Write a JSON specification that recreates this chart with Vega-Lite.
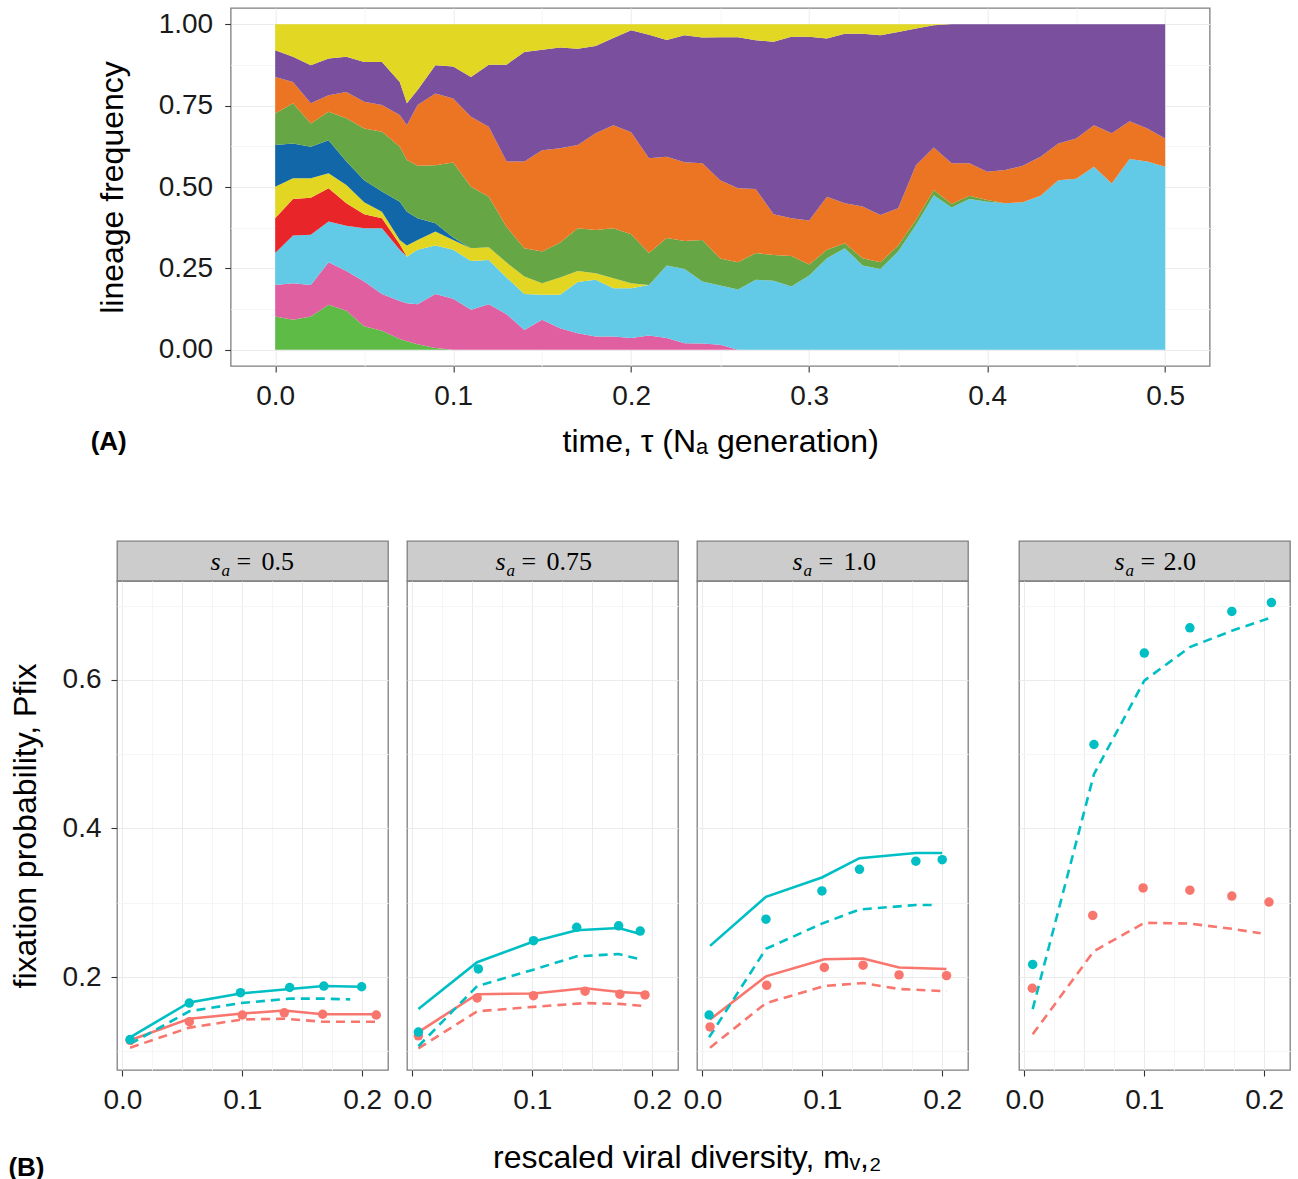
{
  "$schema": "https://vega.github.io/schema/vega-lite/v6.json",
  "background": "white",
  "padding": {"left": 8, "top": 7, "right": 5, "bottom": 0},
  "config": {
    "font": "Liberation Sans",
    "view": {"stroke": "#7F7F7F", "strokeWidth": 1.3},
    "axis": {
      "labelFont": "Liberation Sans", "labelFontSize": 28, "labelColor": "#1A1A1A",
      "titleFont": "Liberation Sans", "titleFontSize": 32, "titleFontWeight": "normal", "titleColor": "#000000",
      "tickColor": "#333333", "tickSize": 6, "tickWidth": 1.1, "domain": false,
      "labelFlush": false, "labelOverlap": false
    },
    "title": {"font": "Liberation Sans", "color": "#000000"}
  },
  "resolve": {"scale": {"color": "independent"}},
  "title": {"text": "(B)", "orient": "bottom", "anchor": "start", "frame": "bounds", "fontSize": 26, "fontWeight": "bold", "offset": -19},
  "datasets": {
    "lin": [
      {"t":0,"k":"L01","f":0.102},{"t":0,"k":"L02","f":0.097},{"t":0,"k":"L03","f":0.098},{"t":0,"k":"L04","f":0.107},{"t":0,"k":"L05","f":0.097},{"t":0,"k":"L06","f":0.128},{"t":0,"k":"L07","f":0.097},{"t":0,"k":"L08","f":0.112},{"t":0,"k":"L09","f":0.082},{"t":0,"k":"L10","f":0.080},
      {"t":0.01,"k":"L01","f":0.092},{"t":0.01,"k":"L02","f":0.112},{"t":0.01,"k":"L03","f":0.147},{"t":0.01,"k":"L04","f":0.112},{"t":0.01,"k":"L05","f":0.064},{"t":0.01,"k":"L06","f":0.107},{"t":0.01,"k":"L07","f":0.123},{"t":0.01,"k":"L08","f":0.066},{"t":0.01,"k":"L09","f":0.077},{"t":0.01,"k":"L10","f":0.100},
      {"t":0.02,"k":"L01","f":0.102},{"t":0.02,"k":"L02","f":0.097},{"t":0.02,"k":"L03","f":0.154},{"t":0.02,"k":"L04","f":0.114},{"t":0.02,"k":"L05","f":0.060},{"t":0.02,"k":"L06","f":0.097},{"t":0.02,"k":"L07","f":0.071},{"t":0.02,"k":"L08","f":0.062},{"t":0.02,"k":"L09","f":0.117},{"t":0.02,"k":"L10","f":0.126},
      {"t":0.03,"k":"L01","f":0.138},{"t":0.03,"k":"L02","f":0.131},{"t":0.03,"k":"L03","f":0.125},{"t":0.03,"k":"L04","f":0.102},{"t":0.03,"k":"L05","f":0.046},{"t":0.03,"k":"L06","f":0.102},{"t":0.03,"k":"L07","f":0.087},{"t":0.03,"k":"L08","f":0.051},{"t":0.03,"k":"L09","f":0.113},{"t":0.03,"k":"L10","f":0.105},
      {"t":0.04,"k":"L01","f":0.120},{"t":0.04,"k":"L02","f":0.122},{"t":0.04,"k":"L03","f":0.139},{"t":0.04,"k":"L04","f":0.069},{"t":0.04,"k":"L05","f":0.056},{"t":0.04,"k":"L06","f":0.072},{"t":0.04,"k":"L07","f":0.133},{"t":0.04,"k":"L08","f":0.081},{"t":0.04,"k":"L09","f":0.108},{"t":0.04,"k":"L10","f":0.100},
      {"t":0.05,"k":"L01","f":0.072},{"t":0.05,"k":"L02","f":0.138},{"t":0.05,"k":"L03","f":0.163},{"t":0.05,"k":"L04","f":0.043},{"t":0.05,"k":"L05","f":0.037},{"t":0.05,"k":"L06","f":0.068},{"t":0.05,"k":"L07","f":0.159},{"t":0.05,"k":"L08","f":0.082},{"t":0.05,"k":"L09","f":0.122},{"t":0.05,"k":"L10","f":0.116},
      {"t":0.06,"k":"L01","f":0.058},{"t":0.06,"k":"L02","f":0.113},{"t":0.06,"k":"L03","f":0.202},{"t":0.06,"k":"L04","f":0.031},{"t":0.06,"k":"L05","f":0.020},{"t":0.06,"k":"L06","f":0.062},{"t":0.06,"k":"L07","f":0.184},{"t":0.06,"k":"L08","f":0.082},{"t":0.06,"k":"L09","f":0.132},{"t":0.06,"k":"L10","f":0.116},
      {"t":0.07,"k":"L01","f":0.033},{"t":0.07,"k":"L02","f":0.117},{"t":0.07,"k":"L03","f":0.157},{"t":0.07,"k":"L04","f":0.017},{"t":0.07,"k":"L05","f":0.013},{"t":0.07,"k":"L06","f":0.118},{"t":0.07,"k":"L07","f":0.169},{"t":0.07,"k":"L08","f":0.097},{"t":0.07,"k":"L09","f":0.102},{"t":0.07,"k":"L10","f":0.177},
      {"t":0.074,"k":"L01","f":0.026},{"t":0.074,"k":"L02","f":0.117},{"t":0.074,"k":"L03","f":0.143},{"t":0.074,"k":"L04","f":0},{"t":0.074,"k":"L05","f":0.034},{"t":0.074,"k":"L06","f":0.104},{"t":0.074,"k":"L07","f":0.159},{"t":0.074,"k":"L08","f":0.107},{"t":0.074,"k":"L09","f":0.067},{"t":0.074,"k":"L10","f":0.243},
      {"t":0.08,"k":"L01","f":0.017},{"t":0.08,"k":"L02","f":0.123},{"t":0.08,"k":"L03","f":0.167},{"t":0.08,"k":"L05","f":0.030},{"t":0.08,"k":"L06","f":0.067},{"t":0.08,"k":"L07","f":0.161},{"t":0.08,"k":"L08","f":0.187},{"t":0.08,"k":"L09","f":0.046},{"t":0.08,"k":"L10","f":0.202},
      {"t":0.09,"k":"L01","f":0.005},{"t":0.09,"k":"L02","f":0.166},{"t":0.09,"k":"L03","f":0.149},{"t":0.09,"k":"L05","f":0.043},{"t":0.09,"k":"L06","f":0.026},{"t":0.09,"k":"L07","f":0.178},{"t":0.09,"k":"L08","f":0.220},{"t":0.09,"k":"L09","f":0.087},{"t":0.09,"k":"L10","f":0.126},
      {"t":0.1,"k":"L01","f":0},{"t":0.1,"k":"L02","f":0.157},{"t":0.1,"k":"L03","f":0.150},{"t":0.1,"k":"L05","f":0.030},{"t":0.1,"k":"L06","f":0.008},{"t":0.1,"k":"L07","f":0.230},{"t":0.1,"k":"L08","f":0.197},{"t":0.1,"k":"L09","f":0.098},{"t":0.1,"k":"L10","f":0.130},
      {"t":0.11,"k":"L02","f":0.123},{"t":0.11,"k":"L03","f":0.150},{"t":0.11,"k":"L05","f":0.039},{"t":0.11,"k":"L06","f":0},{"t":0.11,"k":"L07","f":0.189},{"t":0.11,"k":"L08","f":0.215},{"t":0.11,"k":"L09","f":0.122},{"t":0.11,"k":"L10","f":0.162},
      {"t":0.12,"k":"L02","f":0.140},{"t":0.12,"k":"L03","f":0.136},{"t":0.12,"k":"L05","f":0.039},{"t":0.12,"k":"L07","f":0.155},{"t":0.12,"k":"L08","f":0.215},{"t":0.12,"k":"L09","f":0.191},{"t":0.12,"k":"L10","f":0.124},
      {"t":0.13,"k":"L02","f":0.109},{"t":0.13,"k":"L03","f":0.113},{"t":0.13,"k":"L05","f":0.046},{"t":0.13,"k":"L07","f":0.109},{"t":0.13,"k":"L08","f":0.201},{"t":0.13,"k":"L09","f":0.298},{"t":0.13,"k":"L10","f":0.124},
      {"t":0.14,"k":"L02","f":0.061},{"t":0.14,"k":"L03","f":0.110},{"t":0.14,"k":"L05","f":0.054},{"t":0.14,"k":"L07","f":0.087},{"t":0.14,"k":"L08","f":0.266},{"t":0.14,"k":"L09","f":0.337},{"t":0.14,"k":"L10","f":0.085},
      {"t":0.15,"k":"L02","f":0.092},{"t":0.15,"k":"L03","f":0.077},{"t":0.15,"k":"L05","f":0.035},{"t":0.15,"k":"L07","f":0.098},{"t":0.15,"k":"L08","f":0.311},{"t":0.15,"k":"L09","f":0.309},{"t":0.15,"k":"L10","f":0.078},
      {"t":0.16,"k":"L02","f":0.066},{"t":0.16,"k":"L03","f":0.103},{"t":0.16,"k":"L05","f":0.053},{"t":0.16,"k":"L07","f":0.107},{"t":0.16,"k":"L08","f":0.290},{"t":0.16,"k":"L09","f":0.310},{"t":0.16,"k":"L10","f":0.071},
      {"t":0.17,"k":"L02","f":0.051},{"t":0.17,"k":"L03","f":0.157},{"t":0.17,"k":"L05","f":0.034},{"t":0.17,"k":"L07","f":0.131},{"t":0.17,"k":"L08","f":0.256},{"t":0.17,"k":"L09","f":0.296},{"t":0.17,"k":"L10","f":0.075},
      {"t":0.18,"k":"L02","f":0.041},{"t":0.18,"k":"L03","f":0.174},{"t":0.18,"k":"L05","f":0.020},{"t":0.18,"k":"L07","f":0.133},{"t":0.18,"k":"L08","f":0.297},{"t":0.18,"k":"L09","f":0.268},{"t":0.18,"k":"L10","f":0.067},
      {"t":0.19,"k":"L02","f":0.041},{"t":0.19,"k":"L03","f":0.148},{"t":0.19,"k":"L05","f":0.031},{"t":0.19,"k":"L07","f":0.153},{"t":0.19,"k":"L08","f":0.317},{"t":0.19,"k":"L09","f":0.268},{"t":0.19,"k":"L10","f":0.042},
      {"t":0.2,"k":"L02","f":0.036},{"t":0.2,"k":"L03","f":0.153},{"t":0.2,"k":"L05","f":0.015},{"t":0.2,"k":"L07","f":0.151},{"t":0.2,"k":"L08","f":0.313},{"t":0.2,"k":"L09","f":0.314},{"t":0.2,"k":"L10","f":0.018},
      {"t":0.21,"k":"L02","f":0.044},{"t":0.21,"k":"L03","f":0.155},{"t":0.21,"k":"L05","f":0},{"t":0.21,"k":"L07","f":0.098},{"t":0.21,"k":"L08","f":0.291},{"t":0.21,"k":"L09","f":0.380},{"t":0.21,"k":"L10","f":0.032},
      {"t":0.22,"k":"L02","f":0.036},{"t":0.22,"k":"L03","f":0.223},{"t":0.22,"k":"L07","f":0.084},{"t":0.22,"k":"L08","f":0.250},{"t":0.22,"k":"L09","f":0.359},{"t":0.22,"k":"L10","f":0.048},
      {"t":0.23,"k":"L02","f":0.020},{"t":0.23,"k":"L03","f":0.228},{"t":0.23,"k":"L07","f":0.086},{"t":0.23,"k":"L08","f":0.242},{"t":0.23,"k":"L09","f":0.390},{"t":0.23,"k":"L10","f":0.034},
      {"t":0.24,"k":"L02","f":0.019},{"t":0.24,"k":"L03","f":0.191},{"t":0.24,"k":"L07","f":0.127},{"t":0.24,"k":"L08","f":0.236},{"t":0.24,"k":"L09","f":0.386},{"t":0.24,"k":"L10","f":0.041},
      {"t":0.25,"k":"L02","f":0.015},{"t":0.25,"k":"L03","f":0.182},{"t":0.25,"k":"L07","f":0.083},{"t":0.25,"k":"L08","f":0.241},{"t":0.25,"k":"L09","f":0.439},{"t":0.25,"k":"L10","f":0.040},
      {"t":0.26,"k":"L02","f":0},{"t":0.26,"k":"L03","f":0.185},{"t":0.26,"k":"L07","f":0.084},{"t":0.26,"k":"L08","f":0.227},{"t":0.26,"k":"L09","f":0.464},{"t":0.26,"k":"L10","f":0.040},
      {"t":0.27,"k":"L03","f":0.215},{"t":0.27,"k":"L07","f":0.082},{"t":0.27,"k":"L08","f":0.197},{"t":0.27,"k":"L09","f":0.457},{"t":0.27,"k":"L10","f":0.049},
      {"t":0.28,"k":"L03","f":0.212},{"t":0.28,"k":"L07","f":0.079},{"t":0.28,"k":"L08","f":0.125},{"t":0.28,"k":"L09","f":0.530},{"t":0.28,"k":"L10","f":0.054},
      {"t":0.29,"k":"L03","f":0.194},{"t":0.29,"k":"L07","f":0.094},{"t":0.29,"k":"L08","f":0.116},{"t":0.29,"k":"L09","f":0.558},{"t":0.29,"k":"L10","f":0.038},
      {"t":0.3,"k":"L03","f":0.228},{"t":0.3,"k":"L07","f":0.034},{"t":0.3,"k":"L08","f":0.135},{"t":0.3,"k":"L09","f":0.565},{"t":0.3,"k":"L10","f":0.038},
      {"t":0.31,"k":"L03","f":0.281},{"t":0.31,"k":"L07","f":0.026},{"t":0.31,"k":"L08","f":0.163},{"t":0.31,"k":"L09","f":0.486},{"t":0.31,"k":"L10","f":0.044},
      {"t":0.32,"k":"L03","f":0.312},{"t":0.32,"k":"L07","f":0.015},{"t":0.32,"k":"L08","f":0.123},{"t":0.32,"k":"L09","f":0.521},{"t":0.32,"k":"L10","f":0.029},
      {"t":0.33,"k":"L03","f":0.259},{"t":0.33,"k":"L07","f":0.022},{"t":0.33,"k":"L08","f":0.159},{"t":0.33,"k":"L09","f":0.531},{"t":0.33,"k":"L10","f":0.029},
      {"t":0.34,"k":"L03","f":0.248},{"t":0.34,"k":"L07","f":0.021},{"t":0.34,"k":"L08","f":0.145},{"t":0.34,"k":"L09","f":0.552},{"t":0.34,"k":"L10","f":0.034},
      {"t":0.35,"k":"L03","f":0.302},{"t":0.35,"k":"L07","f":0.018},{"t":0.35,"k":"L08","f":0.115},{"t":0.35,"k":"L09","f":0.541},{"t":0.35,"k":"L10","f":0.024},
      {"t":0.36,"k":"L03","f":0.383},{"t":0.36,"k":"L07","f":0.016},{"t":0.36,"k":"L08","f":0.168},{"t":0.36,"k":"L09","f":0.420},{"t":0.36,"k":"L10","f":0.013},
      {"t":0.37,"k":"L03","f":0.475},{"t":0.37,"k":"L07","f":0.016},{"t":0.37,"k":"L08","f":0.130},{"t":0.37,"k":"L09","f":0.376},{"t":0.37,"k":"L10","f":0.003},
      {"t":0.38,"k":"L03","f":0.437},{"t":0.38,"k":"L07","f":0.011},{"t":0.38,"k":"L08","f":0.125},{"t":0.38,"k":"L09","f":0.427},{"t":0.38,"k":"L10","f":0},
      {"t":0.39,"k":"L03","f":0.463},{"t":0.39,"k":"L07","f":0.010},{"t":0.39,"k":"L08","f":0.100},{"t":0.39,"k":"L09","f":0.427},
      {"t":0.4,"k":"L03","f":0.455},{"t":0.4,"k":"L07","f":0.005},{"t":0.4,"k":"L08","f":0.087},{"t":0.4,"k":"L09","f":0.453},
      {"t":0.41,"k":"L03","f":0.450},{"t":0.41,"k":"L07","f":0},{"t":0.41,"k":"L08","f":0.102},{"t":0.41,"k":"L09","f":0.448},
      {"t":0.42,"k":"L03","f":0.453},{"t":0.42,"k":"L08","f":0.112},{"t":0.42,"k":"L09","f":0.435},
      {"t":0.43,"k":"L03","f":0.473},{"t":0.43,"k":"L08","f":0.120},{"t":0.43,"k":"L09","f":0.407},
      {"t":0.44,"k":"L03","f":0.521},{"t":0.44,"k":"L08","f":0.113},{"t":0.44,"k":"L09","f":0.366},
      {"t":0.45,"k":"L03","f":0.525},{"t":0.45,"k":"L08","f":0.124},{"t":0.45,"k":"L09","f":0.351},
      {"t":0.46,"k":"L03","f":0.562},{"t":0.46,"k":"L08","f":0.128},{"t":0.46,"k":"L09","f":0.310},
      {"t":0.47,"k":"L03","f":0.511},{"t":0.47,"k":"L08","f":0.154},{"t":0.47,"k":"L09","f":0.335},
      {"t":0.48,"k":"L03","f":0.586},{"t":0.48,"k":"L08","f":0.116},{"t":0.48,"k":"L09","f":0.298},
      {"t":0.49,"k":"L03","f":0.578},{"t":0.49,"k":"L08","f":0.102},{"t":0.49,"k":"L09","f":0.320},
      {"t":0.5,"k":"L03","f":0.562},{"t":0.5,"k":"L08","f":0.087},{"t":0.5,"k":"L09","f":0.351}
    ],
    "strips": [{"sa":"0.5"},{"sa":"0.75"},{"sa":"1.0"},{"sa":"2.0"}],
    "pfix": [
      {"sa":"0.5","series":"sim","grp":"1","m":0.0064,"p":0.115},{"sa":"0.5","series":"sim","grp":"1","m":0.0558,"p":0.140},{"sa":"0.5","series":"sim","grp":"1","m":0.100,"p":0.149},{"sa":"0.5","series":"sim","grp":"1","m":0.135,"p":0.152},{"sa":"0.5","series":"sim","grp":"1","m":0.167,"p":0.150},{"sa":"0.5","series":"sim","grp":"1","m":0.2117,"p":0.149},
      {"sa":"0.5","series":"sim","grp":"2","m":0.0064,"p":0.116},{"sa":"0.5","series":"sim","grp":"2","m":0.0558,"p":0.165},{"sa":"0.5","series":"sim","grp":"2","m":0.0985,"p":0.179},{"sa":"0.5","series":"sim","grp":"2","m":0.1395,"p":0.186},{"sa":"0.5","series":"sim","grp":"2","m":0.168,"p":0.188},{"sa":"0.5","series":"sim","grp":"2","m":0.1995,"p":0.187},
      {"sa":"0.5","series":"full","grp":"1","m":0.0064,"p":0.115},{"sa":"0.5","series":"full","grp":"1","m":0.0558,"p":0.144},{"sa":"0.5","series":"full","grp":"1","m":0.100,"p":0.151},{"sa":"0.5","series":"full","grp":"1","m":0.135,"p":0.155},{"sa":"0.5","series":"full","grp":"1","m":0.167,"p":0.150},{"sa":"0.5","series":"full","grp":"1","m":0.2117,"p":0.150},
      {"sa":"0.5","series":"full","grp":"2","m":0.0064,"p":0.119},{"sa":"0.5","series":"full","grp":"2","m":0.0558,"p":0.166},{"sa":"0.5","series":"full","grp":"2","m":0.0985,"p":0.178},{"sa":"0.5","series":"full","grp":"2","m":0.1395,"p":0.184},{"sa":"0.5","series":"full","grp":"2","m":0.168,"p":0.188},{"sa":"0.5","series":"full","grp":"2","m":0.1995,"p":0.187},
      {"sa":"0.5","series":"approx","grp":"1","m":0.0064,"p":0.105},{"sa":"0.5","series":"approx","grp":"1","m":0.0558,"p":0.132},{"sa":"0.5","series":"approx","grp":"1","m":0.100,"p":0.143},{"sa":"0.5","series":"approx","grp":"1","m":0.135,"p":0.144},{"sa":"0.5","series":"approx","grp":"1","m":0.167,"p":0.140},{"sa":"0.5","series":"approx","grp":"1","m":0.2117,"p":0.140},
      {"sa":"0.5","series":"approx","grp":"2","m":0.0064,"p":0.110},{"sa":"0.5","series":"approx","grp":"2","m":0.0558,"p":0.154},{"sa":"0.5","series":"approx","grp":"2","m":0.0985,"p":0.165},{"sa":"0.5","series":"approx","grp":"2","m":0.1395,"p":0.171},{"sa":"0.5","series":"approx","grp":"2","m":0.168,"p":0.171},{"sa":"0.5","series":"approx","grp":"2","m":0.19,"p":0.170},
      {"sa":"0.75","series":"sim","grp":"1","m":0.005,"p":0.121},{"sa":"0.75","series":"sim","grp":"1","m":0.054,"p":0.172},{"sa":"0.75","series":"sim","grp":"1","m":0.101,"p":0.175},{"sa":"0.75","series":"sim","grp":"1","m":0.144,"p":0.181},{"sa":"0.75","series":"sim","grp":"1","m":0.173,"p":0.177},{"sa":"0.75","series":"sim","grp":"1","m":0.194,"p":0.176},
      {"sa":"0.75","series":"sim","grp":"2","m":0.005,"p":0.126},{"sa":"0.75","series":"sim","grp":"2","m":0.055,"p":0.211},{"sa":"0.75","series":"sim","grp":"2","m":0.101,"p":0.249},{"sa":"0.75","series":"sim","grp":"2","m":0.137,"p":0.267},{"sa":"0.75","series":"sim","grp":"2","m":0.172,"p":0.269},{"sa":"0.75","series":"sim","grp":"2","m":0.190,"p":0.262},
      {"sa":"0.75","series":"full","grp":"1","m":0.005,"p":0.126},{"sa":"0.75","series":"full","grp":"1","m":0.054,"p":0.177},{"sa":"0.75","series":"full","grp":"1","m":0.101,"p":0.178},{"sa":"0.75","series":"full","grp":"1","m":0.144,"p":0.185},{"sa":"0.75","series":"full","grp":"1","m":0.173,"p":0.180},{"sa":"0.75","series":"full","grp":"1","m":0.194,"p":0.178},
      {"sa":"0.75","series":"full","grp":"2","m":0.005,"p":0.157},{"sa":"0.75","series":"full","grp":"2","m":0.054,"p":0.220},{"sa":"0.75","series":"full","grp":"2","m":0.101,"p":0.248},{"sa":"0.75","series":"full","grp":"2","m":0.137,"p":0.263},{"sa":"0.75","series":"full","grp":"2","m":0.172,"p":0.266},{"sa":"0.75","series":"full","grp":"2","m":0.190,"p":0.258},
      {"sa":"0.75","series":"approx","grp":"1","m":0.005,"p":0.104},{"sa":"0.75","series":"approx","grp":"1","m":0.054,"p":0.154},{"sa":"0.75","series":"approx","grp":"1","m":0.101,"p":0.160},{"sa":"0.75","series":"approx","grp":"1","m":0.144,"p":0.165},{"sa":"0.75","series":"approx","grp":"1","m":0.173,"p":0.164},{"sa":"0.75","series":"approx","grp":"1","m":0.194,"p":0.161},
      {"sa":"0.75","series":"approx","grp":"2","m":0.005,"p":0.107},{"sa":"0.75","series":"approx","grp":"2","m":0.054,"p":0.188},{"sa":"0.75","series":"approx","grp":"2","m":0.101,"p":0.210},{"sa":"0.75","series":"approx","grp":"2","m":0.137,"p":0.228},{"sa":"0.75","series":"approx","grp":"2","m":0.172,"p":0.231},{"sa":"0.75","series":"approx","grp":"2","m":0.190,"p":0.224},
      {"sa":"1.0","series":"sim","grp":"1","m":0.0064,"p":0.133},{"sa":"1.0","series":"sim","grp":"1","m":0.0536,"p":0.189},{"sa":"1.0","series":"sim","grp":"1","m":0.1017,"p":0.213},{"sa":"1.0","series":"sim","grp":"1","m":0.134,"p":0.216},{"sa":"1.0","series":"sim","grp":"1","m":0.164,"p":0.203},{"sa":"1.0","series":"sim","grp":"1","m":0.2036,"p":0.202},
      {"sa":"1.0","series":"sim","grp":"2","m":0.0056,"p":0.149},{"sa":"1.0","series":"sim","grp":"2","m":0.053,"p":0.278},{"sa":"1.0","series":"sim","grp":"2","m":0.0997,"p":0.316},{"sa":"1.0","series":"sim","grp":"2","m":0.131,"p":0.345},{"sa":"1.0","series":"sim","grp":"2","m":0.178,"p":0.356},{"sa":"1.0","series":"sim","grp":"2","m":0.200,"p":0.358},
      {"sa":"1.0","series":"full","grp":"1","m":0.0064,"p":0.143},{"sa":"1.0","series":"full","grp":"1","m":0.053,"p":0.201},{"sa":"1.0","series":"full","grp":"1","m":0.1017,"p":0.224},{"sa":"1.0","series":"full","grp":"1","m":0.134,"p":0.225},{"sa":"1.0","series":"full","grp":"1","m":0.164,"p":0.213},{"sa":"1.0","series":"full","grp":"1","m":0.2036,"p":0.211},
      {"sa":"1.0","series":"full","grp":"2","m":0.0064,"p":0.242},{"sa":"1.0","series":"full","grp":"2","m":0.053,"p":0.308},{"sa":"1.0","series":"full","grp":"2","m":0.0997,"p":0.334},{"sa":"1.0","series":"full","grp":"2","m":0.131,"p":0.360},{"sa":"1.0","series":"full","grp":"2","m":0.178,"p":0.367},{"sa":"1.0","series":"full","grp":"2","m":0.200,"p":0.367},
      {"sa":"1.0","series":"approx","grp":"1","m":0.0064,"p":0.105},{"sa":"1.0","series":"approx","grp":"1","m":0.053,"p":0.165},{"sa":"1.0","series":"approx","grp":"1","m":0.1017,"p":0.188},{"sa":"1.0","series":"approx","grp":"1","m":0.134,"p":0.192},{"sa":"1.0","series":"approx","grp":"1","m":0.164,"p":0.184},{"sa":"1.0","series":"approx","grp":"1","m":0.2036,"p":0.181},
      {"sa":"1.0","series":"approx","grp":"2","m":0.0056,"p":0.119},{"sa":"1.0","series":"approx","grp":"2","m":0.053,"p":0.238},{"sa":"1.0","series":"approx","grp":"2","m":0.0997,"p":0.272},{"sa":"1.0","series":"approx","grp":"2","m":0.131,"p":0.291},{"sa":"1.0","series":"approx","grp":"2","m":0.178,"p":0.297},{"sa":"1.0","series":"approx","grp":"2","m":0.192,"p":0.297},
      {"sa":"2.0","series":"sim","grp":"1","m":0.0066,"p":0.185},{"sa":"2.0","series":"sim","grp":"1","m":0.057,"p":0.283},{"sa":"2.0","series":"sim","grp":"1","m":0.099,"p":0.320},{"sa":"2.0","series":"sim","grp":"1","m":0.138,"p":0.317},{"sa":"2.0","series":"sim","grp":"1","m":0.173,"p":0.309},{"sa":"2.0","series":"sim","grp":"1","m":0.204,"p":0.301},
      {"sa":"2.0","series":"sim","grp":"2","m":0.0069,"p":0.217},{"sa":"2.0","series":"sim","grp":"2","m":0.058,"p":0.513},{"sa":"2.0","series":"sim","grp":"2","m":0.100,"p":0.636},{"sa":"2.0","series":"sim","grp":"2","m":0.138,"p":0.670},{"sa":"2.0","series":"sim","grp":"2","m":0.173,"p":0.692},{"sa":"2.0","series":"sim","grp":"2","m":0.206,"p":0.704},
      {"sa":"2.0","series":"approx","grp":"1","m":0.0069,"p":0.123},{"sa":"2.0","series":"approx","grp":"1","m":0.058,"p":0.235},{"sa":"2.0","series":"approx","grp":"1","m":0.100,"p":0.273},{"sa":"2.0","series":"approx","grp":"1","m":0.138,"p":0.272},{"sa":"2.0","series":"approx","grp":"1","m":0.173,"p":0.265},{"sa":"2.0","series":"approx","grp":"1","m":0.197,"p":0.259},
      {"sa":"2.0","series":"approx","grp":"2","m":0.0069,"p":0.157},{"sa":"2.0","series":"approx","grp":"2","m":0.058,"p":0.473},{"sa":"2.0","series":"approx","grp":"2","m":0.100,"p":0.599},{"sa":"2.0","series":"approx","grp":"2","m":0.138,"p":0.644},{"sa":"2.0","series":"approx","grp":"2","m":0.173,"p":0.666},{"sa":"2.0","series":"approx","grp":"2","m":0.206,"p":0.684}
    ]
  },
  "center": true,
  "spacing": 82,
  "vconcat": [
    {
      "width": 979,
      "height": 358,
      "data": {"name": "lin"},
      "title": {"text": "(A)", "orient": "bottom", "anchor": "start", "frame": "group", "dx": -140, "offset": -28, "fontSize": 26, "fontWeight": "bold"},
      "mark": {"type": "area", "interpolate": "linear"},
      "encoding": {
        "x": {"field": "t", "type": "quantitative", "title": "time, τ (Nₐ generation)",
          "scale": {"domain": [-0.025, 0.525], "nice": false, "zero": false},
          "axis": {"values": [0,0.05,0.1,0.15,0.2,0.25,0.3,0.35,0.4,0.45,0.5],
            "labelExpr": "round(datum.value*100) % 10 == 0 ? format(datum.value, '.1f') : ''",
            "tickOpacity": {"condition": {"test": "round(datum.value*100) % 10 == 0", "value": 1}, "value": 0},
            "gridColor": {"condition": {"test": "round(datum.value*100) % 10 == 0", "value": "#EBEBEB"}, "value": "#F5F5F5"},
            "labelPadding": 10, "titlePadding": 16}},
        "y": {"field": "f", "type": "quantitative", "stack": "zero", "title": "lineage frequency",
          "scale": {"domain": [-0.05, 1.05], "nice": false, "zero": false},
          "axis": {"values": [0,0.125,0.25,0.375,0.5,0.625,0.75,0.875,1],
            "labelExpr": "round(datum.value*1000) % 250 == 0 ? format(datum.value, '.2f') : ''",
            "tickOpacity": {"condition": {"test": "round(datum.value*1000) % 250 == 0", "value": 1}, "value": 0},
            "gridColor": {"condition": {"test": "round(datum.value*1000) % 250 == 0", "value": "#EBEBEB"}, "value": "#F5F5F5"},
            "labelPadding": 12, "titlePadding": 29}},
        "color": {"field": "k", "type": "nominal", "legend": null,
          "scale": {"domain": ["L01","L02","L03","L04","L05","L06","L07","L08","L09","L10"],
            "range": ["#5DBB46","#E05FA0","#62C9E6","#E8262A","#E3D623","#1267A8","#67A645","#EC7524","#7A509E","#E2D722"]}},
        "order": {"field": "k", "type": "ordinal", "sort": "ascending"}
      }
    },
    {
      "title": {"text": "rescaled viral diversity,  mᵥ,₂", "orient": "bottom", "anchor": "start", "frame": "group", "dx": 376, "offset": 28, "fontSize": 32, "fontWeight": "normal"},
      "spacing": 35,
      "hconcat": [
        {
          "spacing": 3,
          "hconcat": [
            {
              "spacing": 0, "bounds": "flush",
              "vconcat": [
                {
                  "width": 271, "height": 40,
                  "data": {"name": "strips"},
                  "transform": [{"filter": "datum.sa == '0.5'"}],
                  "view": {"fill": "#CCCCCC", "stroke": "#7F7F7F", "strokeWidth": 1.3},
                  "layer": [
                    {"mark": {"type": "text", "font": "Liberation Serif", "fontSize": 26, "fontStyle": "italic", "align": "right", "baseline": "alphabetic", "dx": -32, "dy": 9}, "encoding": {"text": {"value": "s"}}},
                    {"mark": {"type": "text", "font": "Liberation Serif", "fontSize": 17, "fontStyle": "italic", "align": "left", "baseline": "alphabetic", "dx": -31, "dy": 15}, "encoding": {"text": {"value": "a"}}},
                    {"mark": {"type": "text", "font": "Liberation Serif", "fontSize": 26, "align": "left", "baseline": "alphabetic", "dx": -16, "dy": 9}, "encoding": {"text": {"value": "="}}},
                    {"mark": {"type": "text", "font": "Liberation Serif", "fontSize": 26, "align": "left", "baseline": "alphabetic", "dx": 9, "dy": 9}, "encoding": {"text": {"field": "sa"}}}
                  ]
                },
                {
                  "width": 271, "height": 489,
                  "data": {"name": "pfix"},
                  "transform": [{"filter": "datum.sa == '0.5'"}],
                  "encoding": {
                    "x": {"field": "m", "type": "quantitative", "title": null,
                      "scale": {"domain": [-0.0045, 0.2215], "nice": false, "zero": false},
                      "axis": {"values": [0,0.025,0.05,0.075,0.1,0.125,0.15,0.175,0.2],
                        "labelExpr": "round(datum.value*1000) % 100 == 0 ? format(datum.value, '.1f') : ''",
                        "tickOpacity": {"condition": {"test": "round(datum.value*1000) % 100 == 0", "value": 1}, "value": 0},
                        "gridColor": {"condition": {"test": "round(datum.value*1000) % 50 == 0", "value": "#EBEBEB"}, "value": "#F5F5F5"},
                        "labelPadding": 10}},
                    "y": {"field": "p", "type": "quantitative", "title": "fixation probability, Pfix",
                      "scale": {"domain": [0.075, 0.733], "nice": false, "zero": false},
                      "axis": {"values": [0.1,0.2,0.3,0.4,0.5,0.6,0.7],
                        "labelExpr": "round(datum.value*10) % 2 == 0 ? format(datum.value, '.1f') : ''",
                        "tickOpacity": {"condition": {"test": "round(datum.value*10) % 2 == 0", "value": 1}, "value": 0},
                        "gridColor": {"condition": {"test": "round(datum.value*10) % 2 == 0", "value": "#EBEBEB"}, "value": "#F5F5F5"},
                        "labelPadding": 10, "titlePadding": 20}},
                    "color": {"field": "grp", "type": "nominal", "legend": null, "scale": {"domain": ["1","2"], "range": ["#F8766D","#00BFC4"]}}
                  },
                  "layer": [
                    {"transform": [{"filter": "datum.series == 'full'"}], "mark": {"type": "line", "strokeWidth": 2.6}},
                    {"transform": [{"filter": "datum.series == 'approx'"}], "mark": {"type": "line", "strokeWidth": 2.6, "strokeDash": [9, 6]}},
                    {"transform": [{"filter": "datum.series == 'sim'"}], "mark": {"type": "circle", "size": 90, "opacity": 1}}
                  ]
                }
              ]
            },
            {
              "spacing": 0, "bounds": "flush",
              "vconcat": [
                {
                  "width": 271, "height": 40,
                  "data": {"name": "strips"},
                  "transform": [{"filter": "datum.sa == '0.75'"}],
                  "view": {"fill": "#CCCCCC", "stroke": "#7F7F7F", "strokeWidth": 1.3},
                  "layer": [
                    {"mark": {"type": "text", "font": "Liberation Serif", "fontSize": 26, "fontStyle": "italic", "align": "right", "baseline": "alphabetic", "dx": -37, "dy": 9}, "encoding": {"text": {"value": "s"}}},
                    {"mark": {"type": "text", "font": "Liberation Serif", "fontSize": 17, "fontStyle": "italic", "align": "left", "baseline": "alphabetic", "dx": -36, "dy": 15}, "encoding": {"text": {"value": "a"}}},
                    {"mark": {"type": "text", "font": "Liberation Serif", "fontSize": 26, "align": "left", "baseline": "alphabetic", "dx": -21, "dy": 9}, "encoding": {"text": {"value": "="}}},
                    {"mark": {"type": "text", "font": "Liberation Serif", "fontSize": 26, "align": "left", "baseline": "alphabetic", "dx": 4, "dy": 9}, "encoding": {"text": {"field": "sa"}}}
                  ]
                },
                {
                  "width": 271, "height": 489,
                  "data": {"name": "pfix"},
                  "transform": [{"filter": "datum.sa == '0.75'"}],
                  "encoding": {
                    "x": {"field": "m", "type": "quantitative", "title": null,
                      "scale": {"domain": [-0.0045, 0.2215], "nice": false, "zero": false},
                      "axis": {"values": [0,0.025,0.05,0.075,0.1,0.125,0.15,0.175,0.2],
                        "labelExpr": "round(datum.value*1000) % 100 == 0 ? format(datum.value, '.1f') : ''",
                        "tickOpacity": {"condition": {"test": "round(datum.value*1000) % 100 == 0", "value": 1}, "value": 0},
                        "gridColor": {"condition": {"test": "round(datum.value*1000) % 50 == 0", "value": "#EBEBEB"}, "value": "#F5F5F5"},
                        "labelPadding": 10}},
                    "y": {"field": "p", "type": "quantitative", "title": null,
                      "scale": {"domain": [0.075, 0.733], "nice": false, "zero": false},
                      "axis": {"values": [0.1,0.2,0.3,0.4,0.5,0.6,0.7], "labels": false, "ticks": false,
                        "gridColor": {"condition": {"test": "round(datum.value*10) % 2 == 0", "value": "#EBEBEB"}, "value": "#F5F5F5"}}},
                    "color": {"field": "grp", "type": "nominal", "legend": null, "scale": {"domain": ["1","2"], "range": ["#F8766D","#00BFC4"]}}
                  },
                  "layer": [
                    {"transform": [{"filter": "datum.series == 'full'"}], "mark": {"type": "line", "strokeWidth": 2.6}},
                    {"transform": [{"filter": "datum.series == 'approx'"}], "mark": {"type": "line", "strokeWidth": 2.6, "strokeDash": [9, 6]}},
                    {"transform": [{"filter": "datum.series == 'sim'"}], "mark": {"type": "circle", "size": 90, "opacity": 1}}
                  ]
                }
              ]
            },
            {
              "spacing": 0, "bounds": "flush",
              "vconcat": [
                {
                  "width": 271, "height": 40,
                  "data": {"name": "strips"},
                  "transform": [{"filter": "datum.sa == '1.0'"}],
                  "view": {"fill": "#CCCCCC", "stroke": "#7F7F7F", "strokeWidth": 1.3},
                  "layer": [
                    {"mark": {"type": "text", "font": "Liberation Serif", "fontSize": 26, "fontStyle": "italic", "align": "right", "baseline": "alphabetic", "dx": -30, "dy": 9}, "encoding": {"text": {"value": "s"}}},
                    {"mark": {"type": "text", "font": "Liberation Serif", "fontSize": 17, "fontStyle": "italic", "align": "left", "baseline": "alphabetic", "dx": -29, "dy": 15}, "encoding": {"text": {"value": "a"}}},
                    {"mark": {"type": "text", "font": "Liberation Serif", "fontSize": 26, "align": "left", "baseline": "alphabetic", "dx": -14, "dy": 9}, "encoding": {"text": {"value": "="}}},
                    {"mark": {"type": "text", "font": "Liberation Serif", "fontSize": 26, "align": "left", "baseline": "alphabetic", "dx": 11, "dy": 9}, "encoding": {"text": {"field": "sa"}}}
                  ]
                },
                {
                  "width": 271, "height": 489,
                  "data": {"name": "pfix"},
                  "transform": [{"filter": "datum.sa == '1.0'"}],
                  "encoding": {
                    "x": {"field": "m", "type": "quantitative", "title": null,
                      "scale": {"domain": [-0.0045, 0.2215], "nice": false, "zero": false},
                      "axis": {"values": [0,0.025,0.05,0.075,0.1,0.125,0.15,0.175,0.2],
                        "labelExpr": "round(datum.value*1000) % 100 == 0 ? format(datum.value, '.1f') : ''",
                        "tickOpacity": {"condition": {"test": "round(datum.value*1000) % 100 == 0", "value": 1}, "value": 0},
                        "gridColor": {"condition": {"test": "round(datum.value*1000) % 50 == 0", "value": "#EBEBEB"}, "value": "#F5F5F5"},
                        "labelPadding": 10}},
                    "y": {"field": "p", "type": "quantitative", "title": null,
                      "scale": {"domain": [0.075, 0.733], "nice": false, "zero": false},
                      "axis": {"values": [0.1,0.2,0.3,0.4,0.5,0.6,0.7], "labels": false, "ticks": false,
                        "gridColor": {"condition": {"test": "round(datum.value*10) % 2 == 0", "value": "#EBEBEB"}, "value": "#F5F5F5"}}},
                    "color": {"field": "grp", "type": "nominal", "legend": null, "scale": {"domain": ["1","2"], "range": ["#F8766D","#00BFC4"]}}
                  },
                  "layer": [
                    {"transform": [{"filter": "datum.series == 'full'"}], "mark": {"type": "line", "strokeWidth": 2.6}},
                    {"transform": [{"filter": "datum.series == 'approx'"}], "mark": {"type": "line", "strokeWidth": 2.6, "strokeDash": [9, 6]}},
                    {"transform": [{"filter": "datum.series == 'sim'"}], "mark": {"type": "circle", "size": 90, "opacity": 1}}
                  ]
                }
              ]
            }
          ]
        },
        {
          "spacing": 0, "bounds": "flush",
          "vconcat": [
            {
              "width": 271, "height": 40,
              "data": {"name": "strips"},
              "transform": [{"filter": "datum.sa == '2.0'"}],
              "view": {"fill": "#CCCCCC", "stroke": "#7F7F7F", "strokeWidth": 1.3},
              "layer": [
                {"mark": {"type": "text", "font": "Liberation Serif", "fontSize": 26, "fontStyle": "italic", "align": "right", "baseline": "alphabetic", "dx": -30, "dy": 9}, "encoding": {"text": {"value": "s"}}},
                {"mark": {"type": "text", "font": "Liberation Serif", "fontSize": 17, "fontStyle": "italic", "align": "left", "baseline": "alphabetic", "dx": -29, "dy": 15}, "encoding": {"text": {"value": "a"}}},
                {"mark": {"type": "text", "font": "Liberation Serif", "fontSize": 26, "align": "left", "baseline": "alphabetic", "dx": -14, "dy": 9}, "encoding": {"text": {"value": "="}}},
                {"mark": {"type": "text", "font": "Liberation Serif", "fontSize": 26, "align": "left", "baseline": "alphabetic", "dx": 9, "dy": 9}, "encoding": {"text": {"field": "sa"}}}
              ]
            },
            {
              "width": 271, "height": 489,
              "data": {"name": "pfix"},
              "transform": [{"filter": "datum.sa == '2.0'"}],
              "encoding": {
                "x": {"field": "m", "type": "quantitative", "title": null,
                  "scale": {"domain": [-0.0045, 0.2215], "nice": false, "zero": false},
                  "axis": {"values": [0,0.025,0.05,0.075,0.1,0.125,0.15,0.175,0.2],
                    "labelExpr": "round(datum.value*1000) % 100 == 0 ? format(datum.value, '.1f') : ''",
                    "tickOpacity": {"condition": {"test": "round(datum.value*1000) % 100 == 0", "value": 1}, "value": 0},
                    "gridColor": {"condition": {"test": "round(datum.value*1000) % 50 == 0", "value": "#EBEBEB"}, "value": "#F5F5F5"},
                    "labelPadding": 10}},
                "y": {"field": "p", "type": "quantitative", "title": null,
                  "scale": {"domain": [0.075, 0.733], "nice": false, "zero": false},
                  "axis": {"values": [0.1,0.2,0.3,0.4,0.5,0.6,0.7], "labels": false, "ticks": false,
                    "gridColor": {"condition": {"test": "round(datum.value*10) % 2 == 0", "value": "#EBEBEB"}, "value": "#F5F5F5"}}},
                "color": {"field": "grp", "type": "nominal", "legend": null, "scale": {"domain": ["1","2"], "range": ["#F8766D","#00BFC4"]}}
              },
              "layer": [
                {"transform": [{"filter": "datum.series == 'approx'"}], "mark": {"type": "line", "strokeWidth": 2.6, "strokeDash": [9, 6]}},
                {"transform": [{"filter": "datum.series == 'sim'"}], "mark": {"type": "circle", "size": 90, "opacity": 1}}
              ]
            },
            {
              "width": 305, "height": 1,
              "data": {"name": "strips"},
              "transform": [{"filter": "datum.sa == 'none'"}],
              "view": {"stroke": null},
              "mark": {"type": "text"},
              "encoding": {"text": {"field": "sa"}}
            }
          ]
        }
      ]
    }
  ]
}
